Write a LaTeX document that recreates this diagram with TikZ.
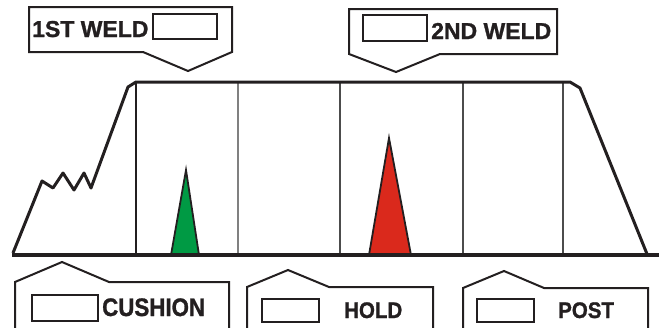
\documentclass[tikz,border=0pt]{standalone}
\usepackage{fontspec}
\setmainfont{Liberation Sans}
\newfontfamily\heavyfont{Liberation Sans Bold}[FakeBold=1.2]
\definecolor{ink}{HTML}{231F20}
\definecolor{weldgreen}{HTML}{009A44}
\definecolor{weldred}{HTML}{DA291C}
\begin{document}
\begin{tikzpicture}[x=1pt,y=-1pt,
  callout/.style={draw=ink,line width=2pt,line join=miter},
  slot/.style={draw=ink,line width=1.6pt},
  lbl/.style={anchor=base west,inner sep=0pt,text=ink,font=\heavyfont\fontsize{23}{23}\selectfont},
  trace/.style={draw=ink,line width=3pt,line join=round},
  divider/.style={line width=1.2pt},
  spike/.style={draw=ink,line width=1.8pt,line join=miter}]
\useasboundingbox (0,0) rectangle (659,327);
% top callouts
\draw[callout] (29,7) -- (232,7) -- (232,52) -- (188,71) -- (143,52) -- (29,52) -- cycle;
\draw[slot] (153,14) rectangle (217,39);
\node[lbl] (w1) at (32,37) {1ST WELD};
\draw[callout] (349,9) -- (557,9) -- (557,54) -- (440,54) -- (396,72) -- (349,54) -- cycle;
\draw[slot] (363,15) rectangle (427,41);
\node[lbl] (w2) at (431,39) {2ND WELD};
% dividers
\draw[divider,draw=ink] (136,83) -- (136,254);
\draw[divider,draw=black!50] (238,83) -- (238,254);
\draw[divider,draw=black!70] (340,83) -- (340,254);
\draw[divider,draw=black!70] (463,83) -- (463,254);
\draw[divider,draw=black!70] (563,83) -- (563,254);
% spikes
\draw[spike,fill=weldgreen] (171,255) -- (186,170) -- (199,255) -- cycle;
\draw[spike,fill=weldred] (369,255) -- (389,138) -- (411,255) -- cycle;
% trace
\draw[trace] (13,253) -- (42,181) -- (53,188) -- (63,173) -- (74,190) -- (84,173) -- (91,188) -- (128,87) -- (136,82) -- (570,82) -- (580,88) -- (647,254);
\draw[draw=ink,line width=4pt] (12,255) -- (659,255);
% bottom callouts
\draw[callout] (15,330) -- (15,282) -- (62,262) -- (109,282) -- (229,282) -- (229,330);
\draw[slot] (32,295) rectangle (98,321);
\node[lbl] (cu) at (102,316) {\scalebox{0.97}[1.1]{CUSHION}};
\draw[callout] (247,330) -- (247,287) -- (288,270) -- (329,287) -- (433,287) -- (433,330);
\draw[slot] (262,299) rectangle (319,322);
\node[lbl,font=\heavyfont\fontsize{20.5}{20.5}\selectfont] (ho) at (344,318) {\scalebox{1}[1.1]{HOLD}};
\draw[callout] (463,330) -- (463,288) -- (504,271) -- (544,288) -- (648,288) -- (648,330);
\draw[slot] (477,299) rectangle (534,322);
\node[lbl,font=\heavyfont\fontsize{20.5}{20.5}\selectfont] (po) at (558,318) {\scalebox{1}[1.1]{POST}};
\end{tikzpicture}
\end{document}
